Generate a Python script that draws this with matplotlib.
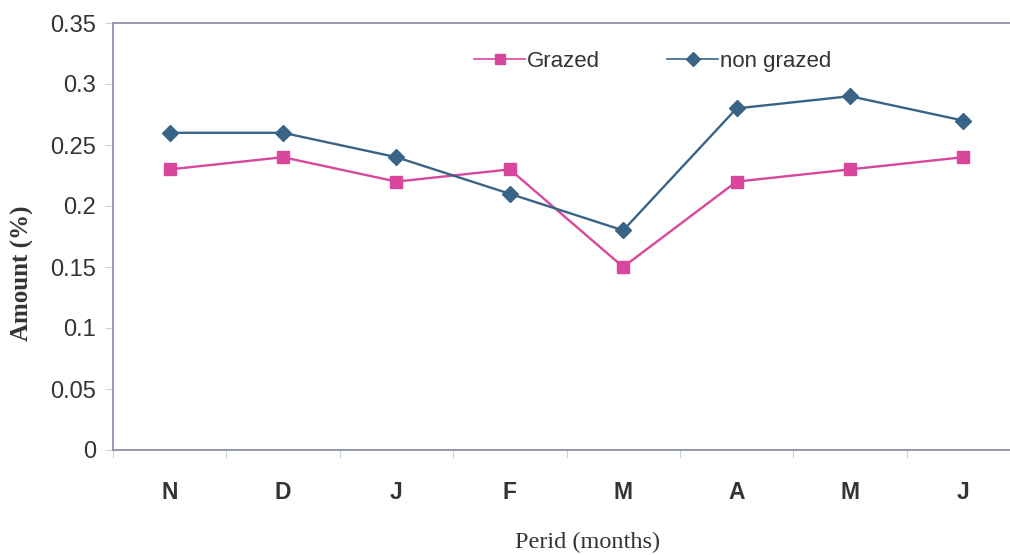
import matplotlib
matplotlib.use("Agg")
import matplotlib.pyplot as plt
import numpy as np

months = ["N", "D", "J", "F", "M", "A", "M", "J"]
grazed = [0.23, 0.24, 0.22, 0.23, 0.15, 0.22, 0.23, 0.24]
non_grazed = [0.26, 0.26, 0.24, 0.21, 0.18, 0.28, 0.29, 0.27]
y_ticks = [0, 0.05, 0.1, 0.15, 0.2, 0.25, 0.3, 0.35]
y_tick_labels = ["0", "0.05", "0.1", "0.15", "0.2", "0.25", "0.3", "0.35"]

pink = "#d9479c"
blue = "#3a6487"
spine_col = "#8c90aa"
text_col = "#333338"

W, H = 1010, 555
fig = plt.figure(figsize=(W / 100, H / 100), dpi=100)
ax = fig.add_axes([113 / W, 105 / H, 907 / W, 427 / H])

x = np.arange(len(months))
ax.plot(x, grazed, color=pink, lw=1.7, marker="s", ms=8, label="Grazed")
ax.plot(x, non_grazed, color=blue, lw=1.7, marker="D", ms=8, label="non grazed")

ax.set_xlim(-0.5, len(months) - 0.5)
ax.set_ylim(0, 0.35)
ax.set_yticks(y_ticks)
ax.set_yticklabels(y_tick_labels, fontsize=17, color=text_col,
                   family="Liberation Sans")
ax.set_xticks(x)
ax.set_xticklabels(months, fontsize=16.5, fontweight="bold", color=text_col,
                   family="Liberation Sans")
ax.set_xticks(np.arange(-0.5, len(months), 1.0), minor=True)
ax.tick_params(axis="x", which="major", length=0, pad=22)
ax.tick_params(axis="x", which="minor", length=6, color="#c8d4e0", width=0.8)
ax.tick_params(axis="y", which="major", length=6, color="#c8d4e0", width=0.8, pad=6)

for side in ["left", "bottom", "top"]:
    ax.spines[side].set_color(spine_col)
    ax.spines[side].set_linewidth(1.3)
ax.spines["right"].set_visible(False)

fig.text(22 / W, 1 - 273 / H, "Amount (%)", rotation=90, ha="center",
         va="center", fontsize=18, fontweight="bold",
         family="Liberation Serif", color=text_col)
fig.text(588 / W, 1 - 542 / H, "Perid (months)", ha="center", va="center",
         fontsize=17.5, family="Liberation Serif", color=text_col)

leg = ax.legend(loc="center left", bbox_to_anchor=(0.398, 0.911), ncol=2,
                frameon=False, handlelength=2.3, borderpad=0,
                borderaxespad=0, columnspacing=3.0, handletextpad=0.1,
                prop={"family": "Liberation Sans", "size": 16})
for t in leg.get_texts():
    t.set_color(text_col)
for h in leg.legend_handles:
    h.set_markersize(7)
    h.set_linewidth(1.2)

fig.savefig("out.png", dpi=100)
